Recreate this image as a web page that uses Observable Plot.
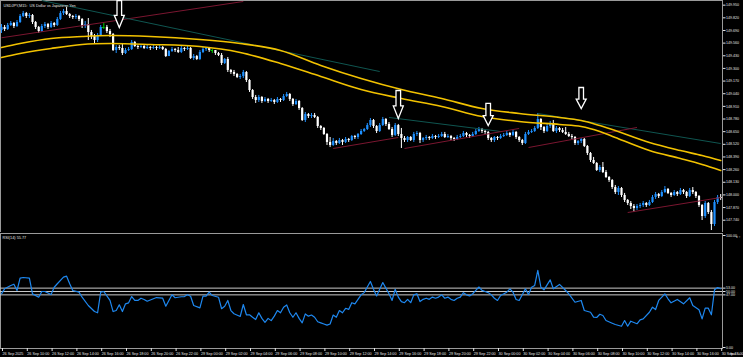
<!DOCTYPE html>
<html><head><meta charset="utf-8">
<script src="https://cdn.jsdelivr.net/npm/d3@7"></script>
<script src="https://cdn.jsdelivr.net/npm/@observablehq/plot@0.6"></script>
<style>
html,body{margin:0;padding:0;background:#000;}
#chart{width:743px;height:357px;overflow:hidden;background:#000;}
#chart svg{display:block;}
</style></head><body><div id="chart"></div>
<script>
// ---------- DATA ----------
const title = "USDJPY,M15:  US Dollar vs Japanese Yen";
const rsiTitle = "RSI(14) 55.77";
const firstOpen = 149.690;
const closes = [149.721,149.700,149.741,149.762,149.731,149.772,149.834,149.864,149.834,149.844,
149.772,149.721,149.679,149.731,149.751,149.721,149.762,149.741,149.803,149.864,
149.885,149.854,149.834,149.823,149.834,149.803,149.731,149.751,149.669,149.628,
149.587,149.638,149.721,149.721,149.679,149.649,149.484,149.515,149.505,149.453,
149.484,149.494,149.566,149.525,149.515,149.525,149.505,149.515,149.505,149.515,
149.505,149.515,149.494,149.422,149.474,149.494,149.484,149.464,149.505,149.494,
149.505,149.402,149.422,149.392,149.464,149.494,149.505,149.484,149.484,149.453,
149.433,149.351,149.392,149.279,149.258,149.238,149.207,149.217,149.258,149.176,
149.073,149.001,148.970,149.001,148.960,148.981,148.960,148.970,148.950,148.981,
148.970,149.011,149.032,148.981,148.929,148.960,148.888,148.765,148.826,148.806,
148.816,148.796,148.703,148.683,148.621,148.539,148.508,148.549,148.528,148.559,
148.539,148.570,148.559,148.600,148.590,148.621,148.652,148.672,148.713,148.765,
148.703,148.652,148.713,148.775,148.724,148.672,148.611,148.713,148.621,148.580,
148.559,148.590,148.559,148.621,148.631,148.559,148.580,148.590,148.580,148.600,
148.590,148.600,148.621,148.590,148.600,148.580,148.570,148.590,148.600,148.631,
148.611,148.600,148.621,148.652,148.672,148.652,148.642,148.580,148.559,148.590,
148.580,148.600,148.611,148.631,148.611,148.642,148.590,148.559,148.528,148.621,
148.642,148.652,148.683,148.775,148.693,148.652,148.703,148.734,148.652,148.683,
148.662,148.642,148.621,148.600,148.590,148.528,148.549,148.570,148.498,148.426,
148.354,148.323,148.251,148.282,148.230,148.179,148.148,148.076,148.025,148.066,
147.994,147.943,147.912,147.881,147.860,147.881,147.891,147.912,147.891,147.922,
147.973,148.004,147.984,148.025,148.056,148.015,147.994,148.025,148.004,148.045,
148.025,147.984,148.045,148.025,147.984,147.891,147.778,147.912,147.819,147.696,
147.922,147.973,147.963];
const highs = [149.751,149.741,149.762,149.782,149.772,149.792,149.854,149.885,149.875,149.864,
149.854,149.782,149.731,149.751,149.772,149.762,149.782,149.772,149.823,149.885,
149.906,149.926,149.864,149.844,149.854,149.844,149.813,149.782,149.813,149.690,
149.649,149.659,149.741,149.762,149.741,149.700,149.659,149.535,149.535,149.556,
149.505,149.515,149.587,149.577,149.535,149.546,149.535,149.535,149.525,149.535,
149.525,149.535,149.525,149.505,149.484,149.515,149.505,149.515,149.525,149.515,
149.525,149.515,149.443,149.433,149.484,149.515,149.515,149.515,149.494,149.484,
149.464,149.453,149.402,149.412,149.289,149.279,149.248,149.238,149.279,149.268,
149.186,149.083,149.022,149.022,149.011,149.001,148.991,148.991,148.981,149.001,
148.991,149.032,149.053,149.042,148.991,148.981,148.970,148.898,148.847,148.837,
148.837,148.837,148.806,148.713,148.693,148.631,148.590,148.580,148.559,148.580,
148.570,148.590,148.580,148.611,148.611,148.631,148.672,148.683,148.734,148.785,
148.775,148.713,148.734,148.796,148.785,148.744,148.693,148.734,148.724,148.683,
148.600,148.600,148.600,148.642,148.652,148.642,148.590,148.611,148.600,148.621,
148.611,148.621,148.642,148.642,148.621,148.611,148.590,148.611,148.621,148.652,
148.642,148.621,148.642,148.672,148.693,148.683,148.662,148.652,148.590,148.600,
148.600,148.621,148.631,148.652,148.642,148.662,148.652,148.600,148.570,148.642,
148.662,148.672,148.703,148.837,148.785,148.703,148.724,148.755,148.765,148.703,
148.693,148.683,148.693,148.642,148.621,148.600,148.559,148.580,148.580,148.508,
148.436,148.385,148.333,148.302,148.333,148.251,148.189,148.158,148.097,148.086,
148.076,148.015,147.953,147.932,147.901,147.901,147.912,147.932,147.922,147.943,
147.994,148.025,148.015,148.045,148.086,148.066,148.025,148.045,148.035,148.066,
148.056,148.035,148.066,148.076,148.035,147.994,147.901,147.932,147.922,147.840,
147.943,147.994,148.004];
const lows = [149.659,149.679,149.690,149.731,149.710,149.721,149.762,149.823,149.813,149.813,
149.751,149.700,149.659,149.669,149.710,149.700,149.710,149.721,149.731,149.792,
149.844,149.844,149.813,149.803,149.803,149.782,149.710,149.710,149.587,149.597,
149.556,149.566,149.628,149.700,149.659,149.618,149.474,149.453,149.484,149.433,
149.443,149.474,149.484,149.515,149.494,149.505,149.494,149.494,149.484,149.494,
149.484,149.494,149.484,149.412,149.422,149.464,149.464,149.453,149.453,149.474,
149.484,149.392,149.381,149.381,149.381,149.453,149.474,149.464,149.453,149.433,
149.422,149.330,149.340,149.258,149.238,149.217,149.196,149.186,149.196,149.155,
149.053,148.981,148.940,148.950,148.940,148.950,148.940,148.950,148.929,148.940,
148.950,148.960,149.001,148.960,148.909,148.919,148.868,148.755,148.744,148.785,
148.785,148.785,148.683,148.662,148.611,148.508,148.487,148.498,148.508,148.518,
148.508,148.528,148.539,148.549,148.570,148.570,148.611,148.642,148.662,148.693,
148.683,148.631,148.642,148.703,148.703,148.662,148.590,148.600,148.600,148.477,
148.539,148.539,148.549,148.539,148.600,148.528,148.539,148.559,148.559,148.570,
148.570,148.580,148.590,148.580,148.580,148.559,148.549,148.559,148.580,148.590,
148.590,148.580,148.590,148.611,148.642,148.631,148.621,148.559,148.539,148.539,
148.559,148.570,148.590,148.600,148.590,148.600,148.570,148.539,148.508,148.518,
148.611,148.631,148.642,148.672,148.662,148.631,148.642,148.683,148.642,148.631,
148.642,148.631,148.611,148.590,148.570,148.508,148.508,148.528,148.487,148.405,
148.333,148.313,148.241,148.230,148.220,148.169,148.128,148.056,148.004,147.994,
147.973,147.922,147.891,147.850,147.819,147.840,147.860,147.871,147.871,147.881,
147.912,147.953,147.963,147.973,148.015,148.004,147.973,147.984,147.984,147.994,
148.004,147.963,147.973,148.004,147.963,147.871,147.737,147.758,147.799,147.634,
147.675,147.901,147.943];

// moving-average band (two yellow lines), read at these bars
const maBars  = [0,6,16,26,35,48,64,77,90,103,116,129,142,155,167,180,187,193,198,209,219,226,232];
const maUpper = [149.515,149.556,149.607,149.628,149.638,149.628,149.597,149.556,149.484,149.330,149.196,149.083,148.991,148.888,148.837,148.796,148.765,148.713,148.662,148.539,148.456,148.405,148.354];
const maLower = [149.412,149.453,149.505,149.546,149.556,149.546,149.525,149.464,149.351,149.217,149.083,148.991,148.909,148.806,148.755,148.724,148.703,148.652,148.590,148.456,148.374,148.313,148.251];

// trendlines
const trendBar1   = [0, 13, 107, 125, 130, 173, 170, 202];
const trendPrice1 = [149.615, 149.998, 148.477, 148.796, 148.477, 148.837, 148.487, 147.819];
const trendBar2   = [78, 122, 128, 161, 167, 232, 205, 232];
const trendPrice2 = [149.988, 149.268, 148.590, 148.652, 148.683, 148.528, 148.693, 147.973];
const trendKind   = ["up","down","up","down","up","down","up","up"];

// arrow objects (tip price and top price)
const arrowBars = [38, 128, 157, 187];
const arrowTips = [149.721, 148.785, 148.713, 148.888];
const arrowTops = [149.998, 149.073, 148.940, 149.104];

const priceTicks = [149.95,149.82,149.69,149.56,149.43,149.30,149.17,149.04,148.91,148.78,148.65,148.52,148.39,148.26,148.13,148.00,147.87,147.74];

const timeLabels = ["26 Sep 2025","26 Sep 10:00","26 Sep 12:00","26 Sep 14:00","26 Sep 16:00","26 Sep 18:00","26 Sep 20:00","26 Sep 22:00",
"29 Sep 00:00","29 Sep 02:00","29 Sep 04:00","29 Sep 06:00","29 Sep 08:00","29 Sep 10:00","29 Sep 12:00","29 Sep 14:00","29 Sep 16:00","29 Sep 18:00","29 Sep 20:00","29 Sep 22:00",
"30 Sep 00:00","30 Sep 02:00","30 Sep 04:00","30 Sep 06:00","30 Sep 08:00","30 Sep 10:00","30 Sep 12:00","30 Sep 14:00","30 Sep 16:00","30 Sep 18:00"];
const timeLabelBars = [0,8,16,24,32,40,48,56,64,72,80,88,96,104,112,120,128,136,144,152,160,168,176,184,192,200,208,216,224,232];

const rsiBars = [0,1,3,4,5,6,7,9,10,12,13,14,16,17,18,20,21,22,23,25,26,28,30,31,32,33,35,36,37,38,39,40,41,42,43,44,45,46,47,49,50,52,53,55,56,58,59,60,61,62,64,65,66,67,68,70,71,72,73,74,75,77,78,79,
80,81,82,83,84,85,86,87,88,89,90,91,92,93,94,95,96,97,98,99,100,101,102,103,104,105,106,107,108,109,110,111,112,113,114,115,116,117,118,119,120,121,122,123,124,125,126,127,128,129,130,131,132,133,134,135,136,137,138,139,140,141,142,143,144,145,146,147,148,149,150,151,152,153,154,155,156,157,158,159,160,161,163,164,165,166,167,169,170,171,172,173,174,175,177,178,180,182,183,185,187,188,190,191,192,193,194,195,197,198,200,201,202,203,205,206,207,209,210,211,212,214,215,216,218,220,222,223,225,226,227,228,229,230,231,232];
const rsiValues = [47.9,52.4,55.4,56.5,50.9,61.9,62.5,61.9,47.9,44.9,50,50,47.3,53.8,56.9,62.8,63.7,56.9,50.9,49.4,44.9,37.5,32.1,31,49.4,50,42,32.1,33,38.1,32.1,39,39.9,45.5,42,42,44,42.9,41.3,43.5,44.6,44,36.9,47.1,44.4,45.3,45.5,47.1,45.8,37.5,35.4,45.8,45.8,49.4,46.4,44.9,34.6,36.9,42,33,30.1,27.7,38.4,29.2,
29.2,27,25,31,26,22.5,26,24,28,33,31,36,38,31,27,31,26,22,30,28,29,27,23,22,21,20,21,29,27,33,31,35,34,40,39,43,47,49,54,59,52,46,52,58,53,48,42,52,45,41,40,43,40,47,48,41,43,44,43,45,44,45,47,44,45,43,42,44,45,49,47,46,48,51,54,51,50,49,47,44,42,46.4,49.4,52.4,49.4,42.9,42,52.4,47.3,53.8,55.4,68.8,53.8,51.5,60.4,52.4,56.3,50.9,47.9,40.4,42,33,31.5,27.1,26.8,29.7,28.6,24.1,21.7,20.5,19,24.1,19,23.5,21.2,24.7,25.6,31.5,36,33.9,42,47.9,43.5,39.9,42.9,39,44.4,37.5,33.7,25.6,35.1,35.1,29.2,51.5,53.5,52.5];
const rsiLevels = [53, 50, 47];
const rsiTicks = [0, 47, 50, 53, 100];

// ---------- LAYOUT / STYLE ----------
const W = 743, mainH = 232, rsiH = 125, marginR = 21;
const xDomain = [-0.3226, 232.58];           // bar index span of the plotting area
const yDomain = [147.6137, 149.998];
const bull = "#1e90ff", bear = "#ffffff", dojiCol = "#00c800";
const maCol = "#f2c200", upCol = "#7a1630", downCol = "#0f5550";
const frameCol = "#9a9a9a", textCol = "#e4e4e4";
const font = "'Liberation Sans', Arial, sans-serif";

// ---------- TABLES ----------
const candles = closes.map((c, i) => ({i, open: i ? closes[i-1] : firstOpen, close: c, high: highs[i], low: lows[i]}));
const candleColor = d => d.close > d.open ? bull : d.close < d.open ? bear : dojiCol;
const bodies = candles.filter(d => d.close !== d.open);
const dojis = candles.filter(d => d.close === d.open);
const ma = maBars.map((b, k) => ({bar: b, upper: maUpper[k], lower: maLower[k]}));
const trends = trendBar1.map((b, k) => ({b1: b, p1: trendPrice1[k], b2: trendBar2[k], p2: trendPrice2[k], kind: trendKind[k]}));
const pxPerPrice = mainH / (yDomain[1] - yDomain[0]);
const arrows = arrowBars.map((b, k) => ({bar: b, tip: arrowTips[k], r: (arrowTops[k] - arrowTips[k]) * pxPerPrice / 2}));
const rsi = rsiBars.map((b, k) => ({bar: b, v: rsiValues[k]}));
const labelOf = new Map(timeLabelBars.map((b, k) => [b, timeLabels[k]]));

const arrowSymbol = {
  draw(ctx, size) {
    const r = Math.sqrt(size / Math.PI), h = 2 * r, hh = 0.45 * h, hw = 5, sw = 2.3;
    ctx.moveTo(-sw, -h); ctx.lineTo(sw, -h); ctx.lineTo(sw, -hh); ctx.lineTo(hw, -hh);
    ctx.lineTo(0, 0); ctx.lineTo(-hw, -hh); ctx.lineTo(-sw, -hh); ctx.closePath();
  }
};

const main = Plot.plot({
  width: W, height: mainH, marginLeft: 0, marginRight: marginR, marginTop: 0, marginBottom: 0,
  style: {background: "#000", color: textCol, fontFamily: font},
  x: {domain: xDomain, axis: null},
  y: {domain: yDomain},
  marks: [
    Plot.frame({stroke: frameCol}),
    Plot.ruleX(candles, {x: "i", y1: "low", y2: "high", stroke: candleColor, strokeWidth: 1}),
    Plot.ruleX(bodies, {x: "i", y1: "open", y2: "close", stroke: candleColor, strokeWidth: 2.2}),
    Plot.ruleY(dojis, {y: "open", x1: d => d.i - 0.4, x2: d => d.i + 0.4, stroke: dojiCol, strokeWidth: 1}),
    Plot.link(trends, {x1: "b1", y1: "p1", x2: "b2", y2: "p2", stroke: d => d.kind === "up" ? upCol : downCol, strokeWidth: 1}),
    Plot.line(ma, {x: "bar", y: "upper", stroke: maCol, strokeWidth: 1.6, curve: "catmull-rom"}),
    Plot.line(ma, {x: "bar", y: "lower", stroke: maCol, strokeWidth: 1.6, curve: "catmull-rom"}),
    ...arrows.map(a => Plot.dot([a], {x: "bar", y: "tip", r: a.r, symbol: arrowSymbol, stroke: "#fff", fill: "#000", strokeWidth: 1.3})),
    Plot.axisY({anchor: "right", ticks: priceTicks, tickFormat: d => d.toFixed(3), tickSize: 2.5, tickPadding: 1, fontSize: 3.6}),
    Plot.text([title], {frameAnchor: "top-left", dx: 3, dy: 4, fontSize: 3.8, fill: textCol, textAnchor: "start"})
  ]
});

const lower = Plot.plot({
  width: W, height: rsiH, marginLeft: 0, marginRight: marginR, marginTop: 1, marginBottom: 9,
  style: {background: "#000", color: textCol, fontFamily: font},
  x: {domain: xDomain},
  y: {domain: [0, 100], range: [115, 3]},
  marks: [
    Plot.frame({stroke: frameCol}),
    Plot.ruleY(rsiLevels, {stroke: "#c8c8c8", strokeWidth: 1}),
    Plot.line(rsi, {x: "bar", y: "v", stroke: "#1e88f0", strokeWidth: 1.2}),
    Plot.axisY({anchor: "right", ticks: rsiTicks, tickFormat: d => d.toFixed(2), tickSize: 2.5, tickPadding: 1, fontSize: 3.6}),
    Plot.axisX({anchor: "bottom", ticks: timeLabelBars, tickFormat: b => labelOf.get(b), tickSize: 3, tickPadding: 0.5, fontSize: 3.7, textAnchor: "start", dx: 1}),
    Plot.text([rsiTitle], {frameAnchor: "top-left", dx: 2, dy: 3, fontSize: 3.8, fill: textCol, textAnchor: "start"})
  ]
});

const root = document.getElementById("chart");
root.appendChild(main);
root.appendChild(lower);
</script>
</body></html>
